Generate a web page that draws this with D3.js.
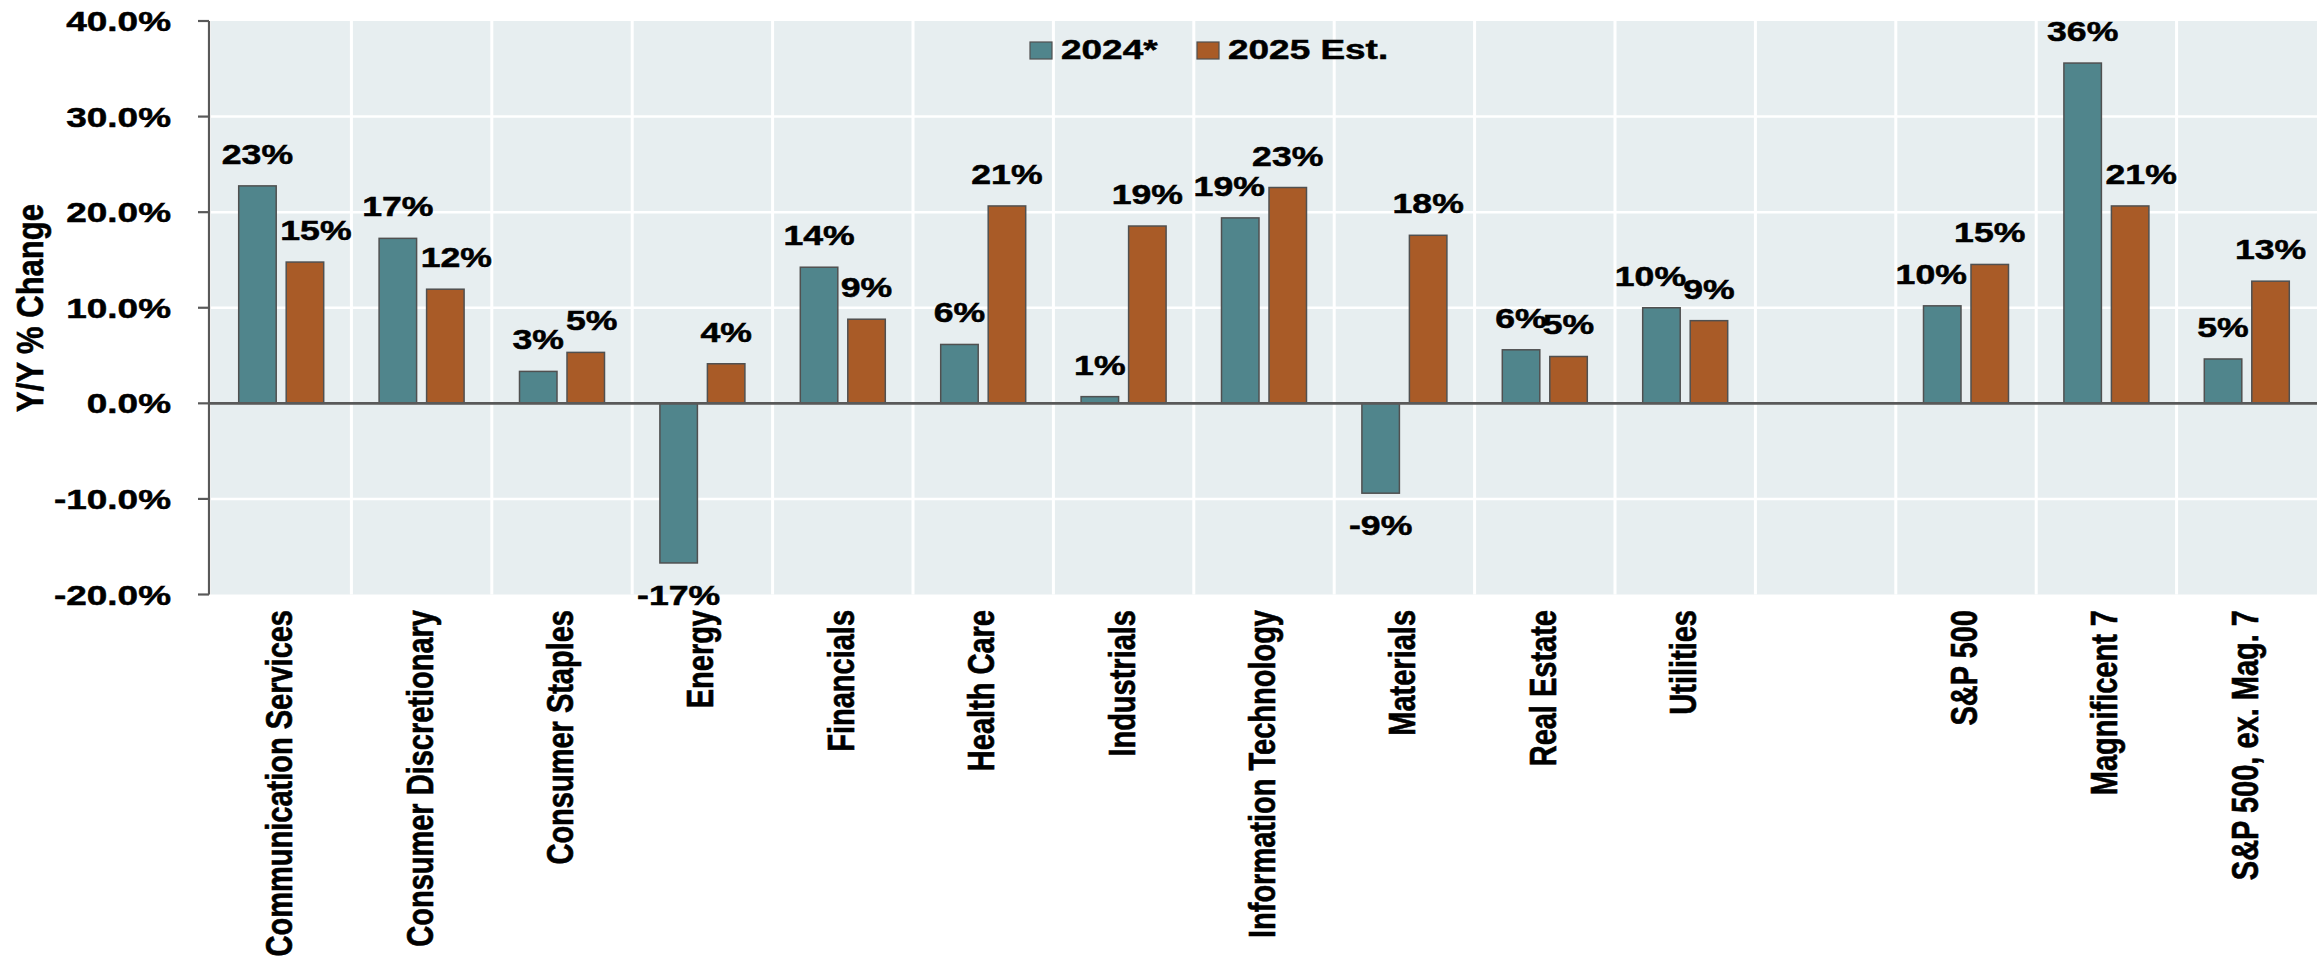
<!DOCTYPE html>
<html>
<head>
<meta charset="utf-8">
<script src="https://cdn.jsdelivr.net/npm/d3@7"></script>
<style>
  html, body { margin: 0; padding: 0; background: #ffffff; }
  svg { display: block; }
  text { font-family: "Liberation Sans", Arial, sans-serif; font-weight: bold; fill: #000; stroke: #000; stroke-width: 0.5px; }
</style>
</head>
<body>
<script>
// ---------- data ----------
const categories = [
  "Communication Services", "Consumer Discretionary", "Consumer Staples", "Energy",
  "Financials", "Health Care", "Industrials", "Information Technology", "Materials",
  "Real Estate", "Utilities", "", "S&P 500", "Magnificent 7", "S&P 500, ex. Mag. 7"
];
const seriesNames = ["2024*", "2025 Est."];
const values2024 = [22.75, 17.26, 3.34, -16.7, 14.24, 6.16, 0.7, 19.4, -9.4, 5.6, 10.0, null, 10.2, 35.6, 4.64];
const values2025 = [14.78, 11.94, 5.33, 4.14, 8.8, 20.65, 18.55, 22.58, 17.58, 4.9, 8.65, null, 14.53, 20.65, 12.78];
const yTicks = [-20, -10, 0, 10, 20, 30, 40];
const yTitle = "Y/Y % Change";

// ---------- layout ----------
const W = 2324, H = 964;
const plot = { left: 211, right: 2317, top: 21, bottom: 594.5 };
const SX = 1.32;            // horizontal stretch of the original artwork's text
const colors = { "2024*": "#50858c", "2025 Est.": "#a95b27" };
const axisColor = "#595959";

const svg = d3.select("body").append("svg").attr("width", W).attr("height", H);

const x = d3.scaleBand().domain(d3.range(categories.length)).range([plot.left, plot.right]).padding(0);
const y = d3.scaleLinear().domain([-20, 40]).range([plot.bottom, plot.top]);
const bw = x.bandwidth();
const x1 = d3.scaleBand().domain(seriesNames)
  .range([bw / 2 - 42.5, bw / 2 + 42.5]).paddingInner(0.2105).paddingOuter(0);

// background
svg.append("rect").attr("x", plot.left).attr("y", plot.top)
  .attr("width", plot.right - plot.left).attr("height", plot.bottom - plot.top)
  .attr("fill", "#e7eef0");

// horizontal gridlines
svg.append("g").selectAll("line").data(yTicks.filter(t => t !== 40 && t !== -20 && t !== 0)).join("line")
  .attr("x1", plot.left).attr("x2", plot.right)
  .attr("y1", d => y(d)).attr("y2", d => y(d))
  .attr("stroke", "#ffffff").attr("stroke-width", 2.5);

// vertical gridlines at band boundaries
svg.append("g").selectAll("line").data(d3.range(1, categories.length)).join("line")
  .attr("x1", d => x(d)).attr("x2", d => x(d))
  .attr("y1", plot.top).attr("y2", plot.bottom)
  .attr("stroke", "#ffffff").attr("stroke-width", 3);

// bars
const rows = categories.map((c, i) => ({ i, c, vals: [values2024[i], values2025[i]] }));
const barData = [];
rows.forEach(r => r.vals.forEach((v, k) => {
  if (v !== null) barData.push({ i: r.i, s: seriesNames[k], v });
}));
svg.append("g").selectAll("rect").data(barData).join("rect")
  .attr("x", d => x(d.i) + x1(d.s))
  .attr("width", x1.bandwidth())
  .attr("y", d => Math.min(y(d.v), y(0)))
  .attr("height", d => Math.abs(y(d.v) - y(0)))
  .attr("fill", d => colors[d.s])
  .attr("stroke", "#505050").attr("stroke-width", 1.5);

// y axis
const yAxis = svg.append("g");
yAxis.append("line").attr("x1", 209).attr("x2", 209).attr("y1", y(40)).attr("y2", y(-20))
  .attr("stroke", axisColor).attr("stroke-width", 2.2);
yAxis.selectAll("line.tick").data(yTicks).join("line").attr("class", "tick")
  .attr("x1", 198).attr("x2", 209).attr("y1", d => y(d)).attr("y2", d => y(d))
  .attr("stroke", axisColor).attr("stroke-width", 2.2);
yAxis.selectAll("text").data(yTicks).join("text")
  .attr("transform", d => `translate(171,${y(d) + 10}) scale(${SX},1)`)
  .attr("text-anchor", "end").attr("font-size", 28)
  .text(d => d.toFixed(1) + "%");

// zero line
svg.append("line").attr("x1", 209).attr("x2", plot.right).attr("y1", y(0)).attr("y2", y(0))
  .attr("stroke", axisColor).attr("stroke-width", 2.6);

// y title
svg.append("text")
  .attr("transform", `translate(43,308) scale(1.22,1) rotate(-90)`)
  .attr("text-anchor", "middle").attr("font-size", 31)
  .text(yTitle);

// category labels
svg.append("g").selectAll("text").data(rows.filter(r => r.c !== "")).join("text")
  .attr("transform", d => `translate(${x(d.i) + bw / 2 + 11},610) scale(1.28,1) rotate(-90)`)
  .attr("text-anchor", "end").attr("font-size", 29)
  .text(d => d.c);

// data labels (with simple collision nudging)
const labelG = svg.append("g");
const CAP = 19, PAD = 6, NUDGE = 11;
rows.forEach(r => {
  if (r.vals[0] === null) return;
  const items = r.vals.map((v, k) => {
    const s = seriesNames[k];
    const bx = x(r.i) + x1(s);
    const cx = bx + x1.bandwidth() / 2;
    const base = v >= 0 ? y(v) - 22 : y(v) + 42;
    const t = labelG.append("text").attr("font-size", 27).text(Math.round(v) + "%");
    const w = t.node().getComputedTextLength() * SX;
    return { v, s, t, cx, w, base, bar: { x0: bx, x1: bx + x1.bandwidth(), y0: Math.min(y(v), y(0)), y1: Math.max(y(v), y(0)) }, dx: 0 };
  });
  const box = it => ({ x0: it.cx - it.w / 2, x1: it.cx + it.w / 2, y0: it.base - CAP - PAD, y1: it.base + PAD });
  const ov = (a, b, minX = 0) => Math.min(a.x1, b.x1) - Math.max(a.x0, b.x0) > minX && a.y0 < b.y1 && b.y0 < a.y1;
  const [a, b] = items;
  if (ov(box(b), a.bar)) b.dx = NUDGE;
  else if (ov(box(a), b.bar)) a.dx = -NUDGE;
  else if (ov(box(a), box(b), 8)) { if (a.v > b.v) a.dx = -NUDGE; else b.dx = NUDGE; }
  else if (ov(box(a), box(b), 0) && b.v > a.v) b.dx = 6;
  items.forEach(it => it.t
    .attr("transform", `translate(${it.cx + it.dx},${it.base}) scale(${SX},1)`)
    .attr("text-anchor", "middle"));
});

// legend
const leg = svg.append("g");
const legX = [1030, 1197];
seriesNames.forEach((s, k) => {
  leg.append("rect").attr("x", legX[k]).attr("y", 42).attr("width", 22).attr("height", 17)
    .attr("fill", colors[s]).attr("stroke", "#505050").attr("stroke-width", 1.2);
  leg.append("text").attr("transform", `translate(${legX[k] + 31},59.3) scale(${SX},1)`)
    .attr("font-size", 28).text(s);
});
</script>
</body>
</html>
